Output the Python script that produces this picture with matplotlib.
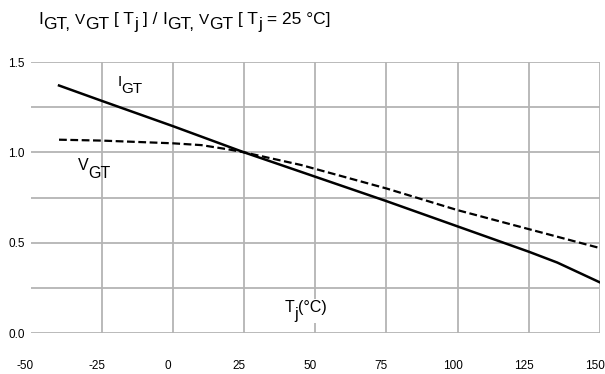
import numpy as np
import matplotlib
matplotlib.use("Agg")
import matplotlib.pyplot as plt
from matplotlib import transforms
from matplotlib.patches import Rectangle

plt.rcParams["font.family"] = ["Liberation Sans", "DejaVu Sans"]
plt.rcParams["axes.unicode_minus"] = False

# I_GT curve (normalised to 25 °C)
igt_t = [-40, -25, 0, 25, 50, 75, 100, 125, 135, 150]
igt_v = [1.37, 1.285, 1.145, 1.0, 0.865, 0.73, 0.59, 0.45, 0.39, 0.28]

# V_GT curve (normalised to 25 °C)
vgt_t = [-40, -25, 0, 10, 20, 25, 45, 75, 100, 125, 150]
vgt_v = [1.07, 1.065, 1.05, 1.04, 1.015, 1.0, 0.93, 0.80, 0.68, 0.575, 0.47]

x_ticks = [-50, -25, 0, 25, 50, 75, 100, 125, 150]
x_labels = ["-50", "-25", "0", "25", "50", "75", "100", "125", "150"]
y_ticks = [0.0, 0.5, 1.0, 1.5]
y_labels = ["0.0", "0.5", "1.0", "1.5"]

fig = plt.figure(figsize=(6.05, 3.74), dpi=100)
ax = fig.add_axes([0.0505, 0.1096, 0.9412, 0.7246])
ren = fig.canvas.get_renderer()


def draw_parts(x, y, parts, size, base_tr, zorder=4):
    # pieces of text laid out left to right; dy (pixels) lowers subscripts
    dx = 0
    texts = []
    for s, dy, fs in parts:
        tr = transforms.offset_copy(base_tr, fig=fig, x=dx, y=-dy, units="dots")
        t = fig.text(x, y, s, transform=tr, fontsize=fs or size,
                     va="baseline", ha="left", zorder=zorder)
        texts.append(t)
        dx += t.get_window_extent(ren).width
    return texts


grid_c = "#b4b4b4"
for x in x_ticks[1:]:
    ax.axvline(x, color=grid_c, lw=1.3, zorder=1)
for y in np.arange(0, 1.51, 0.25):
    ax.axhline(y, color=grid_c, lw=1.3, zorder=1)

ax.plot(igt_t, igt_v, color="black", lw=1.8, zorder=3)
ax.plot(vgt_t, vgt_v, color="black", lw=1.6, ls=(0, (3.5, 1.6)), zorder=3)

ax.set_xlim(-50, 150)
ax.set_ylim(0, 1.5)
for s in ax.spines.values():
    s.set_visible(False)

ax.set_xticks(x_ticks)
ax.set_xticklabels([])
ax.set_yticks(y_ticks)
ax.set_yticklabels(y_labels)
ax.tick_params(axis="both", length=0, labelsize=8.5, colors="black")
ax.tick_params(axis="y", pad=4)

# x labels sit a little left of their grid lines, as in the source
xlab_tr = transforms.offset_copy(ax.get_xaxis_transform(), fig=fig, x=-5, y=-33, units="dots")
for xv, lab in zip(x_ticks, x_labels):
    ax.text(xv, 0, lab, transform=xlab_tr, fontsize=8.5, ha="center",
            va="center", clip_on=False)

# curve labels
draw_parts(-19.5, 1.367, [("I", 0, None), ("GT", 7, None)], 11, ax.transData)
draw_parts(-33.5, 0.905, [("V", 0, None), ("GT", 8, None)], 11.5, ax.transData)

tj = draw_parts(39.3, 0.117, [("T", 0, None), ("j", 7, None), ("(°C)", 0, None)],
                11.5, ax.transData, zorder=5)
fig.canvas.draw()
bbs = transforms.Bbox.union([t.get_window_extent(ren) for t in tj])
fig.patches.append(Rectangle((bbs.x0 - 2, bbs.y0 - 1), bbs.width + 4, bbs.height + 2,
                             transform=None, facecolor="white", edgecolor="none",
                             zorder=4.5, figure=fig))

title_parts = [
    ("I", 0, None), ("GT,", 5, None), (" ", 0, None), ("V", 0, 11), ("GT", 5, None),
    (" [ T", 0, None), ("j", 5, None), (" ] / ", 0, None),
    ("I", 0, None), ("GT,", 5, None), (" ", 0, None), ("V", 0, 11), ("GT", 5, None),
    (" [ T", 0, None), ("j", 5, None), (" = 25 °C]", 0, None),
]
draw_parts(0.063, 0.935, title_parts, 12.5, fig.transFigure)

fig.savefig("out.png", dpi=100)
